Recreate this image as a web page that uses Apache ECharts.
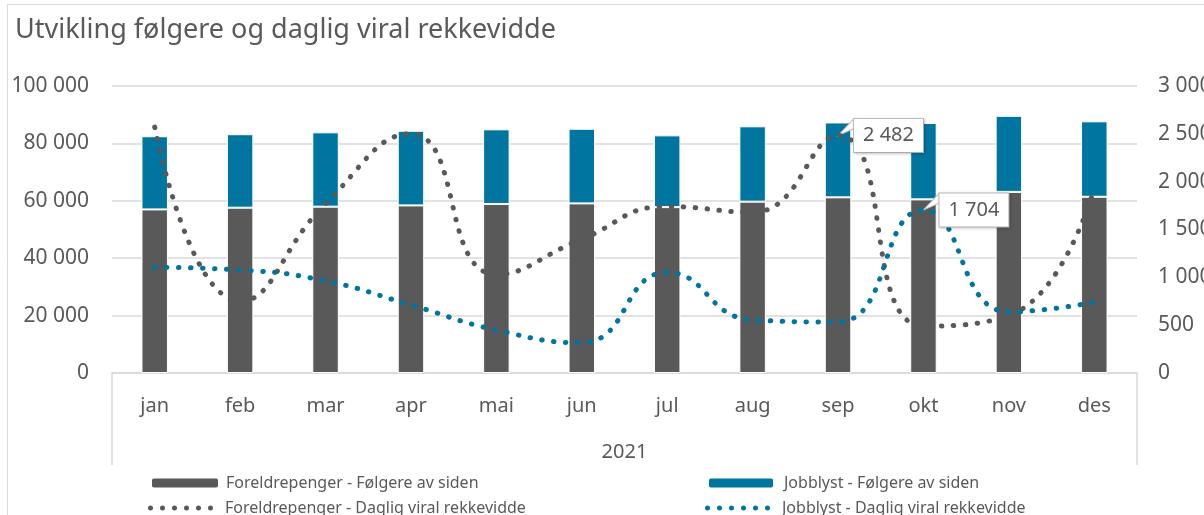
<!DOCTYPE html>
<html>
<head>
<meta charset="utf-8">
<script src="https://cdn.jsdelivr.net/npm/echarts@6/dist/echarts.min.js"></script>
<style>
  html, body { margin: 0; padding: 0; background: #fff; }
  #chart { width: 1204px; height: 515px; }
</style>
</head>
<body>
<div id="chart"></div>
<script>
var months = ['jan', 'feb', 'mar', 'apr', 'mai', 'jun', 'jul', 'aug', 'sep', 'okt', 'nov', 'des'];
var yearLabel = ['2021'];
// følgere av siden (venstre akse)
var foreldreFolgere = [57000, 57600, 57950, 58400, 58900, 59100, 57800, 59700, 61200, 60500, 63100, 61400];
var jobblystFolgere = [25500, 25600, 25900, 26000, 26000, 26000, 25000, 26250, 26100, 26600, 26500, 26300];
// daglig viral rekkevidde (høyre akse)
var foreldreViral = [2570, 750, 1770, 2500, 1030, 1400, 1740, 1680, 2482, 490, 600, 1930];
var jobblystViral = [1105, 1077, 962, 711, 449, 317, 1052, 554, 533, 1704, 638, 739];
var foreldreLabelIdx = 8;
var jobblystLabelIdx = 9;

var FONT = 'Noto Sans';
var GREY = '#595959';
var TEAL = '#0075a0';
var TXT = '#595959';

function fmt(v) {
    return String(v).replace(/\B(?=(\d{3})+(?!\d))/g, ' ');
}

//seks prikker som legendeikon
function dotsIcon() {
    var p = '';
    for (var k = 0; k < 6; k++) {
        var x = 12 * k;
        p += 'M' + x + ',2.5a2.5,2.5 0 1,0 5,0a2.5,2.5 0 1,0 -5,0';
    }
    return 'path://' + p;
}

//dataetikett med hvit boks
function callout() {
    return {
        show: true,
        position: 'right',
        distance: 16,
        formatter: function (p) { return fmt(p.value); },
        fontFamily: FONT,
        fontSize: 20,
        color: TXT,
        backgroundColor: '#fff',
        borderColor: '#bfbfbf',
        borderWidth: 1,
        padding: [7, 9, 6, 9],
        shadowColor: 'rgba(0,0,0,0.22)',
        shadowBlur: 3,
        shadowOffsetX: 1,
        shadowOffsetY: 1
    };
}

function withLabel(arr, idx) {
    return arr.map(function (v, i) {
        return i === idx ? { value: v, label: callout() } : v;
    });
}

//spiss på etiketten
function tail(idx, value) {
    return {
        silent: true,
        symbol: 'path://M0,17L16,0L16,10Z',
        symbolSize: [16, 17],
        symbolOffset: [8, -8.5],
        label: { show: false },
        itemStyle: { color: '#fff', borderColor: '#bfbfbf', borderWidth: 1 },
        data: [{ coord: [idx, value] }]
    };
}

var names = [
    'Foreldrepenger - Følgere av siden',
    'Jobblyst - Følgere av siden',
    'Foreldrepenger - Daglig viral rekkevidde',
    'Jobblyst - Daglig viral rekkevidde'
];

function legendAt(name, left, top, w, h, gap, icon) {
    var item = { name: name };
    if (icon) item.icon = icon;
    return {
        data: [item],
        left: left,
        top: top,
        itemWidth: w,
        itemHeight: h,
        padding: 0,
        selectedMode: false,
        textStyle: { fontFamily: FONT, fontSize: 16, color: TXT, padding: [0, 0, 0, gap] }
    };
}

var chart = echarts.init(document.getElementById('chart'));
chart.setOption({
    animation: false,
    textStyle: { fontFamily: FONT },
    title: {
        text: 'Utvikling følgere og daglig viral rekkevidde',
        left: 10,
        top: 12,
        textStyle: { fontFamily: FONT, fontSize: 27, fontWeight: 'normal', color: TXT }
    },
    graphic: [{
        type: 'rect',
        shape: { x: 7.5, y: 4.5, width: 1300, height: 700 },
        style: { fill: 'none', stroke: '#d9d9d9', lineWidth: 1 },
        silent: true
    }],
    legend: [
        legendAt(names[0], 150, 475, 68, 11, 2),
        legendAt(names[1], 707, 475, 66, 11, 5),
        legendAt(names[2], 148, 500, 65, 5, 7, dotsIcon()),
        legendAt(names[3], 705, 500, 65, 5, 7, dotsIcon())
    ],
    grid: { left: 112, right: 67, top: 86, bottom: 142, outerBoundsMode: 'none' },
    xAxis: [{
        type: 'category',
        data: months,
        position: 'bottom',
        axisLine: { show: true, lineStyle: { color: '#d9d9d9', width: 1.5 } },
        axisTick: { show: false },
        axisLabel: { margin: 23, fontFamily: FONT, fontSize: 20, color: TXT }
    }, {
        type: 'category',
        data: yearLabel,
        position: 'bottom',
        axisLine: { show: false },
        axisTick: { show: true, length: 92, lineStyle: { color: '#d9d9d9', width: 1.5 } },
        axisLabel: { margin: 69, fontFamily: FONT, fontSize: 20, color: TXT }
    }],
    yAxis: [{
        type: 'value',
        min: 0,
        max: 100000,
        interval: 20000,
        axisLine: { show: false },
        axisTick: { show: false },
        splitLine: { lineStyle: { color: '#d9d9d9', width: 1.5 } },
        axisLabel: { margin: 23, fontFamily: FONT, fontSize: 21, color: TXT, formatter: fmt }
    }, {
        type: 'value',
        min: 0,
        max: 3000,
        interval: 500,
        position: 'right',
        axisLine: { show: false },
        axisTick: { show: false },
        splitLine: { show: false },
        axisLabel: { margin: 21, fontFamily: FONT, fontSize: 21, color: TXT, formatter: fmt }
    }],
    series: [{
        name: names[0],
        type: 'bar',
        stack: 'folgere',
        barWidth: '31%',
        itemStyle: { color: GREY, borderColor: '#fff', borderWidth: 1 },
        data: foreldreFolgere
    }, {
        name: names[1],
        type: 'bar',
        stack: 'folgere',
        itemStyle: { color: TEAL, borderColor: '#fff', borderWidth: 1 },
        data: jobblystFolgere
    }, {
        name: names[2],
        type: 'line',
        yAxisIndex: 1,
        smooth: 0.5,
        symbol: 'circle',
        symbolSize: 0,
        showSymbol: true,
        z: 5,
        lineStyle: { color: GREY, width: 5, type: [0.5, 11.5], cap: 'round' },
        itemStyle: { color: GREY },
        data: withLabel(foreldreViral, foreldreLabelIdx),
        markPoint: tail(foreldreLabelIdx, foreldreViral[foreldreLabelIdx])
    }, {
        name: names[3],
        type: 'line',
        yAxisIndex: 1,
        smooth: 0.5,
        symbol: 'circle',
        symbolSize: 0,
        showSymbol: true,
        z: 5,
        lineStyle: { color: TEAL, width: 5, type: [0.5, 11.5], cap: 'round' },
        itemStyle: { color: TEAL },
        data: withLabel(jobblystViral, jobblystLabelIdx),
        markPoint: tail(jobblystLabelIdx, jobblystViral[jobblystLabelIdx])
    }]
});
</script>
</body>
</html>
